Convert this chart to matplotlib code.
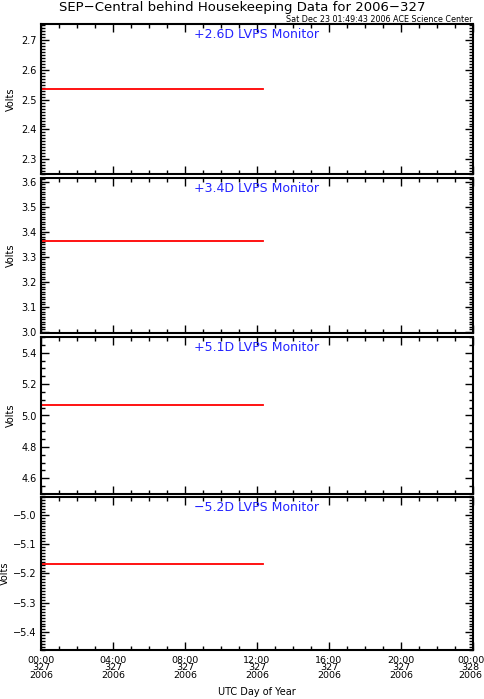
import numpy as np
import matplotlib.pyplot as plt
from matplotlib.ticker import MultipleLocator, FixedLocator
from matplotlib.transforms import ScaledTranslation

# 数据：四个 LVPS 监测通道（仅前半天有数据，电压恒定）
panel_titles = ["+2.6D LVPS Monitor", "+3.4D LVPS Monitor",
                "+5.1D LVPS Monitor", "\u22125.2D LVPS Monitor"]
hours = [0.0, 12.35]
volts_26 = [2.537, 2.537]
volts_34 = [3.362, 3.362]
volts_51 = [5.069, 5.069]
volts_52 = [-5.169, -5.169]
series = [volts_26, volts_34, volts_51, volts_52]

y_ranges = [(2.25, 2.755), (2.995, 3.615), (4.5, 5.5), (-5.46, -4.94)]
y_major = [0.1, 0.1, 0.2, 0.1]
y_minor = [0.01, 0.01, 0.05, 0.01]

x_ticks = [0, 4, 8, 12, 16, 20, 24]
x_labels = ["00:00\n327\n2006", "04:00\n327\n2006", "08:00\n327\n2006",
            "12:00\n327\n2006", "16:00\n327\n2006", "20:00\n327\n2006",
            "00:00\n328\n2006"]

plt.rcParams['font.family'] = ['DejaVu Sans']
plt.rcParams['axes.unicode_minus'] = True

W, H = 484, 699
fig = plt.figure(figsize=(W / 100, H / 100), dpi=100)

left, right = 41, 473
tops = [24, 178, 337, 497]
bottoms = [174, 333, 494, 650]
ylabel_x = [16, 16, 16, 10]

for i in range(4):
    ax = fig.add_axes([left / W, 1 - bottoms[i] / H,
                       (right - left) / W, (bottoms[i] - tops[i]) / H])
    ax.plot(hours, series[i], color='red', lw=1.3)
    ax.set_xlim(0, 24)
    ax.set_ylim(*y_ranges[i])
    ax.xaxis.set_major_locator(FixedLocator(x_ticks))
    ax.xaxis.set_minor_locator(MultipleLocator(1))
    ax.yaxis.set_major_locator(MultipleLocator(y_major[i]))
    ax.yaxis.set_minor_locator(MultipleLocator(y_minor[i]))
    ax.tick_params(which='both', direction='in', top=True, right=True,
                   width=1.0, labelsize=7, pad=3)
    ax.tick_params(which='major', length=6)
    ax.tick_params(which='minor', length=3)
    for sp in ax.spines.values():
        sp.set_linewidth(1.5)
    ax.yaxis.set_major_formatter(plt.FuncFormatter(
        lambda v, p: f"{v:.1f}".replace('-', '\u2212')))
    ax.set_ylabel("Volts", fontsize=7)
    ax.yaxis.set_label_coords((ylabel_x[i] - left) / (right - left), 0.5)
    ax.text(0.5, 0.975, panel_titles[i], transform=ax.transAxes,
            ha='center', va='top', color='#2424ff', fontsize=9)
    if i == 3:
        ax.set_xticklabels(x_labels, fontsize=6.8, linespacing=0.8)
        ax.tick_params(axis='x', pad=4)
        last = ax.get_xticklabels()[-1]
        last.set_transform(last.get_transform() +
                           ScaledTranslation(-2.5 / 100, 0, fig.dpi_scale_trans))
    else:
        ax.set_xticklabels([])

fig.text(0.5, 1 - 8 / H, "SEP\u2212Central behind Housekeeping Data for 2006\u2212327",
         ha='center', va='center', fontsize=9.5)
fig.text(right / W, 1 - 19 / H, "Sat Dec 23 01:49:43 2006 ACE Science Center",
         ha='right', va='center', fontsize=5.8)
fig.text((left + right) / 2 / W, 1 - 692 / H, "UTC Day of Year",
         ha='center', va='center', fontsize=7)

fig.savefig("out.png", dpi=100)
